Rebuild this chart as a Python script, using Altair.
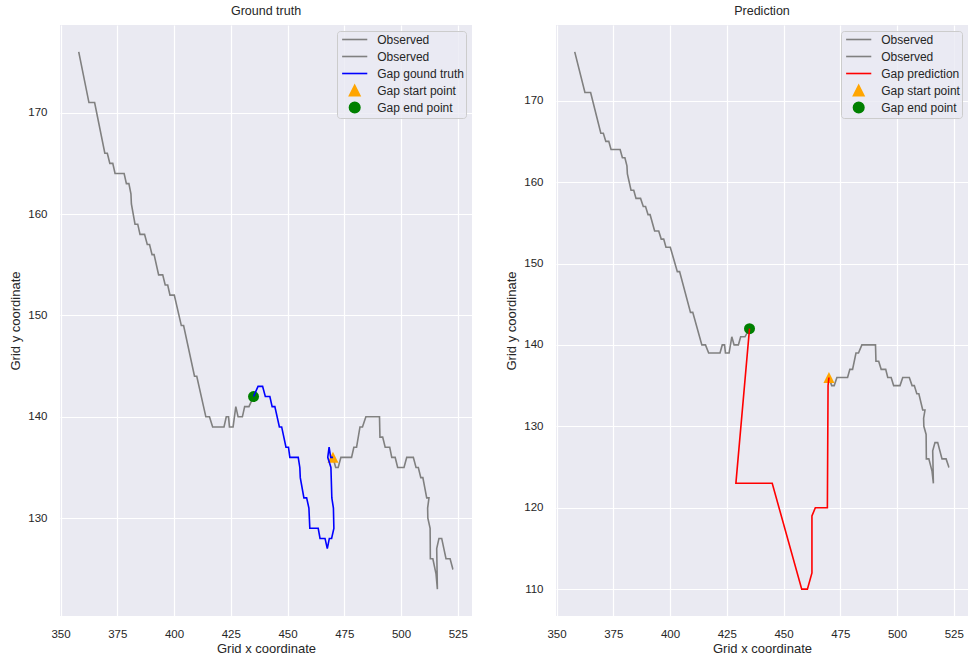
import altair as alt
import pandas as pd

# Observed track before the gap
obs_a_x = [358, 362.5, 365, 369.5, 370.6, 371.7, 373, 374, 378, 379, 380.1, 381, 381.2,
           382.8, 384, 385, 387, 388.2, 389.2, 390.3, 391.2, 393.2, 395, 396.1, 397.2,
           398.2, 400.1, 403.2, 404.2, 409, 410, 414, 415.6, 417, 422, 423, 424, 424.4,
           426, 427.2, 428.2, 430.1, 431.1, 433, 435]
obs_a_y = [176, 171, 171, 166, 166, 165, 165, 164, 164, 163, 163, 162, 161,
           159, 159, 158, 158, 157, 157, 156, 156, 154, 154, 153, 153,
           152, 152, 149, 149, 144, 144, 140, 140, 139, 139, 140, 140, 139,
           139, 141, 140, 140, 141, 141, 142]

# Observed track after the gap
obs_b_x = [470, 471.2, 472.3, 473.5, 478.2, 479.2, 480.4, 481.9, 483, 484.5, 490.5, 490.7,
           491.9, 493, 495, 495.9, 497.4, 498.5, 501.3, 502.5, 505.4, 506.6, 507.6, 508.7,
           509.6, 511.3, 512.3, 511.7, 511.8, 512.8, 512.9, 514, 515.4, 516, 515.7, 516.7,
           517.9, 519.8, 521.6, 522.8, 523]
obs_b_y = [136, 135, 135, 136, 136, 137, 137, 139, 139, 140, 140, 138,
           138, 137, 137, 136, 136, 135, 135, 136, 136, 135, 135, 134,
           134, 132, 132, 131, 130, 129, 126, 126, 124.5, 123, 127, 128,
           128, 126, 126, 125, 125]

# True path through the gap
gt_x = [435, 437, 439, 440.2, 442.2, 443.2, 444.4, 446.4, 447.4, 449.3, 450.4, 451, 454.7,
        455.4, 455.6, 457.2, 458.4, 459.4, 459.8, 463.5, 464.3, 466.5, 467.5, 468.4, 469.4,
        470.4, 470.2, 469.5, 469.1, 467.7, 468.3, 469, 470]
gt_y = [142, 143, 143, 142, 142, 141, 141, 139, 139, 137, 137, 136, 136,
        135, 134, 132, 132, 131, 129, 129, 128, 128, 127, 128, 128,
        129, 131, 132, 135, 136, 137, 136, 136]

# Predicted path through the gap
pred_x = [435, 429, 445, 458, 460.5, 462.5, 462.5, 464, 469.3, 469.6, 470]
pred_y = [142, 123, 123, 110, 110, 112, 119, 120, 120, 135, 136]

start_x = [470]
start_y = [136]
end_x = [435]
end_y = [142]

x_ticks = [350, 375, 400, 425, 450, 475, 500, 525]
y_ticks_truth = [130, 140, 150, 160, 170]
y_ticks_pred = [110, 120, 130, 140, 150, 160, 170]

GRAY = "#808080"
ORANGE = "#FFA500"
GREEN = "#008000"
TEXT = "#262626"
FONT = "Liberation Sans"
TRIANGLE = "M0,-1L1,1L-1,1Z"
LEGEND_LINE = "M-2.4,0H2.4"

keys = ["obs_a", "obs_b", "gap", "start", "end"]


def track(key, xs, ys):
    return pd.DataFrame({"x": xs, "y": ys, "step": list(range(len(xs))), "series": key})


def limits(values):
    lo, hi = min(values), max(values)
    pad = 0.05 * (hi - lo)
    return [lo - pad, hi + pad]


def panel(title, gap_label, gap_color, gap_x, gap_y, y_ticks):
    x_dom = limits(obs_a_x + obs_b_x + gap_x)
    y_dom = limits(obs_a_y + obs_b_y + gap_y)

    xenc = alt.X("x:Q", scale=alt.Scale(domain=x_dom, nice=False, zero=False),
                 axis=alt.Axis(values=x_ticks, title="Grid x coordinate"))
    yenc = alt.Y("y:Q", scale=alt.Scale(domain=y_dom, nice=False, zero=False),
                 axis=alt.Axis(values=y_ticks, title="Grid y coordinate"))

    label_expr = (f"datum.value == 'gap' ? '{gap_label}' : datum.value == 'start' ? "
                  "'Gap start point' : datum.value == 'end' ? 'Gap end point' : 'Observed'")
    shape_expr = (f"datum.value == 'start' ? '{TRIANGLE}' : datum.value == 'end' ? "
                  f"'circle' : '{LEGEND_LINE}'")
    fill_expr = (f"datum.value == 'start' ? '{ORANGE}' : datum.value == 'end' ? "
                 f"'{GREEN}' : 'transparent'")

    legend = alt.Legend(
        title=None, orient="top-right", offset=6, labelExpr=label_expr,
        labelFont=FONT, labelFontSize=12, labelColor=TEXT,
        symbolSize=110, symbolStrokeWidth=1.6, symbolOffset=9.2, labelOffset=16,
        symbolType=alt.ExprRef(expr=shape_expr),
        symbolFillColor=alt.ExprRef(expr=fill_expr),
        gridAlign="all", rowPadding=0, padding=2,
        fillColor="rgba(234,234,242,0.8)", strokeColor="#cccccc", cornerRadius=3,
    )
    color = alt.Color("series:N",
                      scale=alt.Scale(domain=keys, range=[GRAY, GRAY, gap_color, ORANGE, GREEN]),
                      legend=legend)

    obs_df = pd.concat([track("obs_a", obs_a_x, obs_a_y), track("obs_b", obs_b_x, obs_b_y)])
    observed = alt.Chart(obs_df).mark_line(strokeWidth=1.6).encode(
        x=xenc, y=yenc, color=color, detail="series:N", order="step:Q")
    start = alt.Chart(track("start", start_x, start_y)).mark_point(
        shape=TRIANGLE, filled=True, size=121, opacity=1, color=ORANGE).encode(x=xenc, y=yenc)
    end = alt.Chart(track("end", end_x, end_y)).mark_point(
        shape="circle", filled=True, size=121, opacity=1, color=GREEN).encode(x=xenc, y=yenc)
    gap = alt.Chart(track("gap", gap_x, gap_y)).mark_line(
        strokeWidth=1.6, color=gap_color).encode(x=xenc, y=yenc, order="step:Q")

    return alt.layer(observed, start, end, gap).properties(
        width=412, height=591,
        title=alt.TitleParams(title, font=FONT, fontSize=12.5, fontWeight="normal",
                              color=TEXT, offset=8),
    )


left = panel("Ground truth", "Gap gound truth", "#0000FF", gt_x, gt_y, y_ticks_truth)
right = panel("Prediction", "Gap prediction", "#FF0000", pred_x, pred_y, y_ticks_pred)

chart = alt.hconcat(left, right, spacing=33).resolve_scale(
    x="independent", y="independent", color="independent"
).configure_view(fill="#EAEAF2", strokeWidth=0).configure_axis(
    labelFont=FONT, labelFontSize=11.5, labelColor=TEXT, labelFlush=False,
    titleFont=FONT, titleFontSize=13, titleFontWeight="normal", titleColor=TEXT,
    grid=True, gridColor="white", gridWidth=1.2, gridOpacity=1,
    domain=False, ticks=False, labelPadding=13, titlePadding=5,
).configure_axisX(labelPadding=12, titlePadding=3).properties(
    padding={"left": 9, "top": 4, "right": 0, "bottom": 0}
)

chart.save("out.html", embed_options={"renderer": "svg", "actions": False})
